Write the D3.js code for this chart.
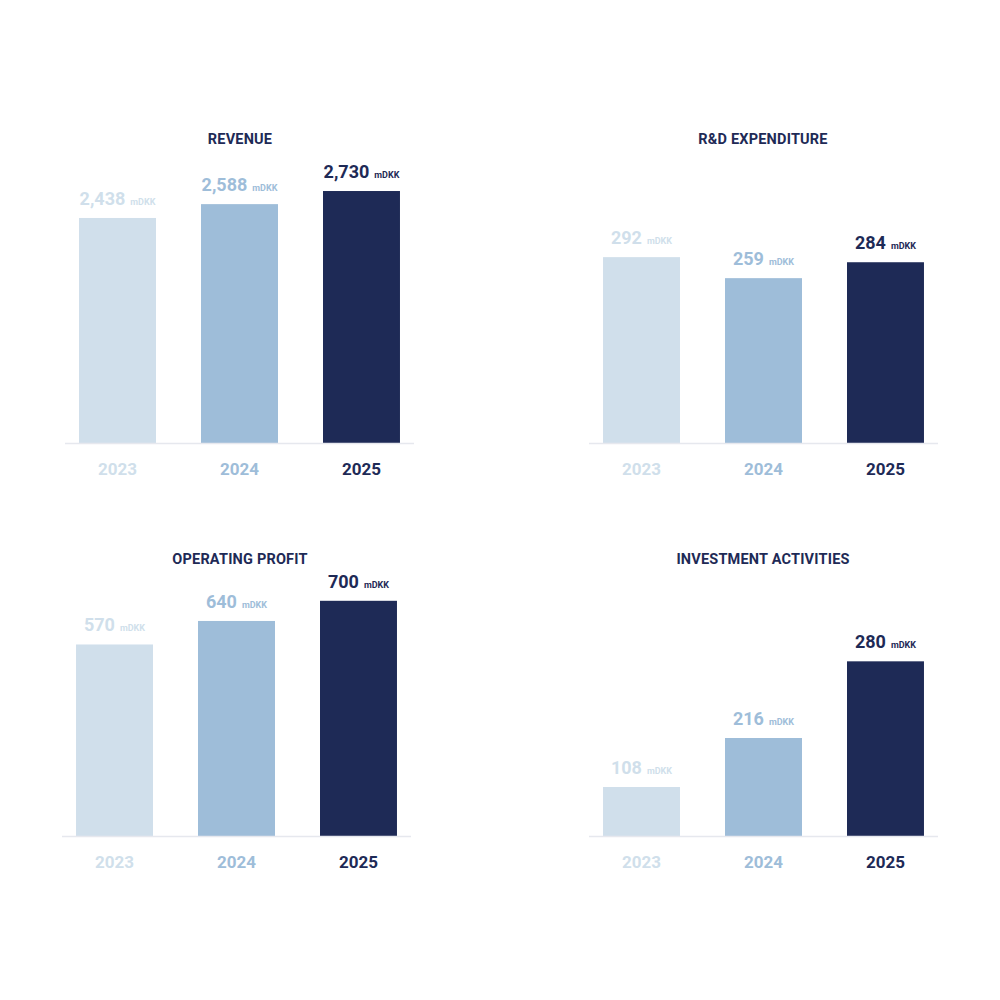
<!DOCTYPE html>
<html>
<head>
<meta charset="utf-8">
<script src="https://cdn.jsdelivr.net/npm/d3@7"></script>
<style>
  html, body { margin: 0; padding: 0; background: #ffffff; }
  svg { display: block; }
  text { font-family: Roboto, "DejaVu Sans", sans-serif; }
</style>
</head>
<body>
<svg id="chart" width="1000" height="1000"></svg>
<script>
// ---- data ----
const years = ["2023", "2024", "2025"];
const unit = "mDKK";

const revenueValues = [2438, 2588, 2730];
const rdValues = [292, 259, 284];
const opProfitValues = [570, 640, 700];
// The drawn 2025 investment bar in the reference is taller than its label value
const investmentBarValues = [108, 216, 385];
const investmentLabelValues = [108, 216, 280];

const titles = ["REVENUE", "R&D EXPENDITURE", "OPERATING PROFIT", "INVESTMENT ACTIVITIES"];
const yearColors = ["#d0dfeb", "#9ebdd9", "#1e2a56"];
const yearTextColors = ["#d0dfeb", "#9ebdd9", "#1e2a56"];

// ---- layout ----
const panels = [
  { title: titles[0], bars: revenueValues, labels: revenueValues, x0: 65, x1: 414, base: 443, domainMax: 3000, pxPerUnit: 0.0923, titleX: 240, titleY: 144 },
  { title: titles[1], bars: rdValues, labels: rdValues, x0: 589, x1: 938, base: 443, domainMax: 400, pxPerUnit: 0.6365, titleX: 763, titleY: 144 },
  { title: titles[2], bars: opProfitValues, labels: opProfitValues, x0: 62, x1: 411, base: 836, domainMax: 1000, pxPerUnit: 0.3360, titleX: 240, titleY: 564 },
  { title: titles[3], bars: investmentBarValues, labels: investmentLabelValues, x0: 589, x1: 938, base: 836, domainMax: 400, pxPerUnit: 0.4537, titleX: 763, titleY: 564 }
];

const svg = d3.select("#chart");
const fmt = d3.format(",");

panels.forEach(p => {
  const g = svg.append("g");
  const x = d3.scaleBand().domain(years).range([p.x0, p.x1]).paddingInner(0.369).paddingOuter(0.115);
  const y = d3.scaleLinear().domain([0, p.domainMax]).range([p.base, p.base - p.domainMax * p.pxPerUnit]);

  // title
  g.append("text")
    .attr("x", p.titleX).attr("y", p.titleY)
    .attr("text-anchor", "middle")
    .attr("fill", "#1e2a56")
    .attr("font-size", 14.5).attr("font-weight", 700)
    .attr("letter-spacing", 0.2)
    .text(p.title);

  // bars
  g.selectAll("rect.bar").data(years).join("rect")
    .attr("class", "bar")
    .attr("x", d => x(d))
    .attr("width", x.bandwidth())
    .attr("y", (d, i) => y(p.bars[i]))
    .attr("height", (d, i) => y(0) - y(p.bars[i]))
    .attr("fill", (d, i) => yearColors[i]);

  // baseline axis
  const axis = d3.axisBottom(x).tickSize(0).tickPadding(19);
  const ax = g.append("g").attr("transform", `translate(0,${p.base + 0.5})`).call(axis);
  ax.select(".domain").attr("stroke", "#e6e8ee").attr("stroke-width", 1.6)
    .attr("d", `M${p.x0},0H${p.x1}`);
  ax.selectAll(".tick text")
    .attr("font-family", "Roboto, sans-serif")
    .attr("font-size", 17).attr("font-weight", 700)
    .attr("fill", (d, i) => yearTextColors[i]);

  // value labels
  years.forEach((yr, i) => {
    const t = g.append("text")
      .attr("x", x(yr) + x.bandwidth() / 2)
      .attr("y", y(p.bars[i]) - 13)
      .attr("text-anchor", "middle")
      .attr("fill", yearTextColors[i]);
    t.append("tspan").attr("font-size", 18).attr("font-weight", 700).text(fmt(p.labels[i]));
    t.append("tspan").attr("font-size", 9).attr("font-weight", 700).attr("dx", 5).text(unit);
  });
});
</script>
</body>
</html>
